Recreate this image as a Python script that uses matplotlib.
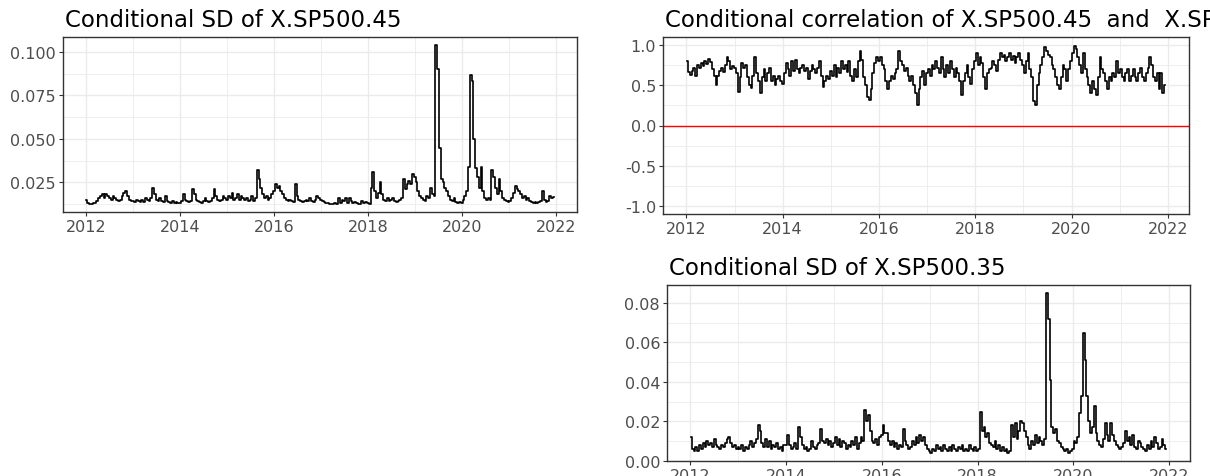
import numpy as np
import pandas as pd
import matplotlib
matplotlib.use("Agg")
import matplotlib.pyplot as plt
import matplotlib.dates as mdates
import matplotlib.ticker as mticker

plt.rcParams['font.family'] = ['DejaVu Sans']

# fortnightly DCC-GARCH output, 26 values per year, 2012-2021
sd_45 = [
    # 2012
    0.015, 0.013, 0.0125, 0.0125, 0.013, 0.013, 0.014, 0.016, 0.017, 0.018, 0.016, 0.018, 0.017,
    0.016, 0.015, 0.017, 0.016, 0.015, 0.014, 0.015, 0.017, 0.019, 0.020, 0.017, 0.015, 0.014,
    # 2013
    0.014, 0.0135, 0.015, 0.014, 0.0135, 0.015, 0.0135, 0.016, 0.015, 0.014, 0.016, 0.022, 0.018,
    0.015, 0.014, 0.016, 0.014, 0.0135, 0.017, 0.014, 0.0135, 0.013, 0.014, 0.013, 0.0135, 0.013,
    # 2014
    0.013, 0.014, 0.018, 0.015, 0.014, 0.0135, 0.014, 0.021, 0.018, 0.015, 0.014, 0.0135, 0.013,
    0.014, 0.016, 0.014, 0.0135, 0.014, 0.016, 0.021, 0.017, 0.015, 0.014, 0.015, 0.017, 0.016,
    # 2015
    0.015, 0.017, 0.016, 0.019, 0.015, 0.016, 0.018, 0.015, 0.017, 0.016, 0.015, 0.016, 0.014,
    0.015, 0.017, 0.014, 0.016, 0.032, 0.027, 0.022, 0.018, 0.016, 0.017, 0.015, 0.016, 0.018,
    # 2016
    0.020, 0.024, 0.022, 0.023, 0.020, 0.018, 0.016, 0.015, 0.014, 0.015, 0.014, 0.0135, 0.024,
    0.017, 0.015, 0.014, 0.0135, 0.014, 0.015, 0.014, 0.016, 0.014, 0.0135, 0.015, 0.017, 0.016,
    # 2017
    0.015, 0.014, 0.0135, 0.013, 0.013, 0.0128, 0.0125, 0.0125, 0.013, 0.0125, 0.016, 0.013, 0.015,
    0.014, 0.016, 0.013, 0.016, 0.014, 0.013, 0.0135, 0.013, 0.0125, 0.0125, 0.014, 0.013, 0.0135,
    # 2018
    0.013, 0.0125, 0.022, 0.031, 0.020, 0.016, 0.019, 0.025, 0.018, 0.015, 0.014, 0.016, 0.014,
    0.015, 0.016, 0.014, 0.0135, 0.014, 0.015, 0.016, 0.027, 0.021, 0.024, 0.026, 0.024, 0.030,
    # 2019
    0.028, 0.025, 0.020, 0.017, 0.016, 0.015, 0.014, 0.017, 0.016, 0.022, 0.018, 0.017, 0.104,
    0.090, 0.045, 0.027, 0.025, 0.022, 0.020, 0.017, 0.015, 0.014, 0.016, 0.0135, 0.013, 0.0135,
    # 2020
    0.013, 0.015, 0.017, 0.020, 0.034, 0.087, 0.083, 0.050, 0.033, 0.028, 0.022, 0.034, 0.020,
    0.016, 0.015, 0.016, 0.015, 0.032, 0.028, 0.022, 0.018, 0.027, 0.020, 0.016, 0.015, 0.014,
    # 2021
    0.0135, 0.014, 0.016, 0.019, 0.023, 0.021, 0.020, 0.018, 0.016, 0.017, 0.015, 0.016, 0.014,
    0.0135, 0.013, 0.0135, 0.013, 0.0135, 0.014, 0.020, 0.015, 0.0135, 0.014, 0.017, 0.016, 0.0165,
]

sd_35 = [
    # 2012
    0.012, 0.006, 0.005, 0.007, 0.005, 0.008, 0.006, 0.009, 0.007, 0.010, 0.008, 0.009, 0.007,
    0.011, 0.008, 0.007, 0.006, 0.008, 0.007, 0.009, 0.011, 0.012, 0.009, 0.007, 0.008, 0.006,
    # 2013
    0.007, 0.006, 0.008, 0.005, 0.007, 0.006, 0.008, 0.010, 0.007, 0.009, 0.011, 0.018, 0.015,
    0.009, 0.007, 0.011, 0.007, 0.010, 0.006, 0.008, 0.007, 0.009, 0.006, 0.007, 0.005, 0.008,
    # 2014
    0.008, 0.013, 0.008, 0.006, 0.007, 0.009, 0.006, 0.017, 0.012, 0.008, 0.006, 0.007, 0.005,
    0.006, 0.010, 0.007, 0.006, 0.008, 0.009, 0.016, 0.010, 0.009, 0.011, 0.008, 0.010, 0.007,
    # 2015
    0.009, 0.012, 0.008, 0.011, 0.007, 0.010, 0.009, 0.006, 0.008, 0.007, 0.010, 0.008, 0.012,
    0.006, 0.009, 0.012, 0.010, 0.026, 0.020, 0.023, 0.015, 0.010, 0.009, 0.011, 0.008, 0.012,
    # 2016
    0.013, 0.018, 0.014, 0.014, 0.010, 0.008, 0.010, 0.007, 0.009, 0.006, 0.008, 0.007, 0.016,
    0.010, 0.008, 0.006, 0.007, 0.010, 0.008, 0.012, 0.009, 0.013, 0.010, 0.012, 0.008, 0.006,
    # 2017
    0.005, 0.004, 0.006, 0.005, 0.008, 0.006, 0.007, 0.005, 0.008, 0.006, 0.005, 0.007, 0.005,
    0.008, 0.006, 0.005, 0.007, 0.006, 0.008, 0.005, 0.006, 0.005, 0.008, 0.006, 0.005, 0.007,
    # 2018
    0.005, 0.006, 0.025, 0.015, 0.017, 0.012, 0.014, 0.009, 0.008, 0.007, 0.010, 0.006, 0.008,
    0.005, 0.007, 0.005, 0.006, 0.004, 0.005, 0.018, 0.012, 0.019, 0.011, 0.015, 0.020, 0.019,
    # 2019
    0.015, 0.012, 0.008, 0.006, 0.010, 0.008, 0.013, 0.009, 0.012, 0.010, 0.008, 0.011, 0.085,
    0.072, 0.041, 0.017, 0.014, 0.016, 0.010, 0.009, 0.007, 0.006, 0.005, 0.006, 0.004, 0.005,
    # 2020
    0.006, 0.010, 0.009, 0.012, 0.024, 0.033, 0.065, 0.051, 0.033, 0.020, 0.014, 0.017, 0.028,
    0.014, 0.010, 0.008, 0.007, 0.011, 0.019, 0.013, 0.010, 0.019, 0.013, 0.010, 0.008, 0.007,
    # 2021
    0.006, 0.007, 0.009, 0.015, 0.010, 0.012, 0.008, 0.013, 0.007, 0.006, 0.010, 0.009, 0.007,
    0.006, 0.005, 0.008, 0.006, 0.010, 0.007, 0.012, 0.009, 0.006, 0.007, 0.011, 0.008, 0.006,
]

corr = [
    # 2012
    0.80, 0.66, 0.63, 0.68, 0.72, 0.62, 0.75, 0.72, 0.78, 0.74, 0.80, 0.76, 0.83,
    0.79, 0.70, 0.62, 0.50, 0.62, 0.68, 0.72, 0.66, 0.75, 0.85, 0.80, 0.70, 0.74,
    # 2013
    0.72, 0.65, 0.42, 0.60, 0.78, 0.72, 0.75, 0.60, 0.50, 0.46, 0.62, 0.85, 0.65,
    0.55, 0.40, 0.60, 0.70, 0.55, 0.65, 0.72, 0.55, 0.62, 0.50, 0.58, 0.62, 0.55,
    # 2014
    0.52, 0.65, 0.78, 0.70, 0.62, 0.80, 0.68, 0.82, 0.70, 0.65, 0.72, 0.75, 0.68,
    0.72, 0.58, 0.68, 0.75, 0.70, 0.65, 0.72, 0.80, 0.62, 0.48, 0.55, 0.62, 0.58,
    # 2015
    0.68, 0.62, 0.75, 0.60, 0.72, 0.65, 0.80, 0.70, 0.75, 0.66, 0.80, 0.62, 0.55,
    0.70, 0.60, 0.80, 0.93, 0.82, 0.60, 0.50, 0.35, 0.32, 0.45, 0.65, 0.78, 0.85,
    # 2016
    0.80, 0.85, 0.75, 0.70, 0.55, 0.45, 0.55, 0.62, 0.58, 0.65, 0.70, 0.92, 0.80,
    0.75, 0.68, 0.72, 0.62, 0.55, 0.62, 0.50, 0.40, 0.25, 0.45, 0.60, 0.68, 0.50,
    # 2017
    0.65, 0.70, 0.62, 0.75, 0.70, 0.80, 0.72, 0.65, 0.85, 0.70, 0.60, 0.75, 0.65,
    0.80, 0.70, 0.60, 0.72, 0.65, 0.55, 0.38, 0.55, 0.65, 0.75, 0.60, 0.52, 0.70,
    # 2018
    0.80, 0.90, 0.75, 0.85, 0.78, 0.60, 0.45, 0.65, 0.70, 0.72, 0.80, 0.75, 0.68,
    0.82, 0.90, 0.85, 0.88, 0.80, 0.85, 0.90, 0.82, 0.86, 0.78, 0.85, 0.90, 0.82,
    # 2019
    0.75, 0.65, 0.80, 0.90, 0.70, 0.60, 0.30, 0.26, 0.50, 0.65, 0.75, 0.85, 0.98,
    0.92, 0.88, 0.85, 0.75, 0.70, 0.60, 0.50, 0.45, 0.60, 0.75, 0.70, 0.55, 0.70,
    # 2020
    0.80, 0.90, 0.99, 0.95, 0.85, 0.75, 0.65, 0.90, 0.70, 0.60, 0.50, 0.40, 0.55,
    0.45, 0.38, 0.60, 0.85, 0.70, 0.65, 0.55, 0.45, 0.60, 0.55, 0.65, 0.60, 0.80,
    # 2021
    0.65, 0.70, 0.60, 0.55, 0.65, 0.70, 0.55, 0.62, 0.70, 0.60, 0.55, 0.65, 0.72,
    0.60, 0.55, 0.65, 0.72, 0.85, 0.75, 0.60, 0.55, 0.65, 0.45, 0.65, 0.40, 0.50,
]

dates = pd.date_range("2012-01-06", periods=len(sd_45), freq="14D")

W, H = 1210, 477
fig = plt.figure(figsize=(W / 100, H / 100), dpi=100)

BORDER = "#333333"
GRID = "#EBEBEB"
TICKCOL = "#4D4D4D"


def panel(px_box, title, y, yticks, yfmt, ylim=None):
    l, t, r, b = px_box
    ax = fig.add_axes([l / W, 1 - b / H, (r - l) / W, (b - t) / H])
    ax.plot(dates, y, color="black", lw=1.2, drawstyle="steps-mid")
    ax.margins(x=0.05, y=0.05)
    if ylim is not None:
        ax.set_ylim(*ylim)
    ax.xaxis.set_major_locator(mdates.YearLocator(2))
    ax.xaxis.set_minor_locator(mdates.YearLocator(1))
    ax.xaxis.set_major_formatter(mdates.DateFormatter("%Y"))
    ax.set_yticks(yticks)
    step = yticks[1] - yticks[0]
    ax.yaxis.set_minor_locator(mticker.MultipleLocator(step / 2))
    ax.yaxis.set_major_formatter(mticker.FormatStrFormatter(yfmt))
    ax.grid(which="major", color=GRID, lw=1.0)
    ax.grid(which="minor", color=GRID, lw=0.6)
    ax.set_axisbelow(True)
    for s in ax.spines.values():
        s.set_color(BORDER)
        s.set_linewidth(1.0)
    ax.tick_params(which="major", length=3, width=0.8, color=BORDER,
                   labelcolor=TICKCOL, labelsize=11.5, pad=2)
    ax.tick_params(which="minor", length=0)
    fig.text((l + 2) / W, 1 - (t - 11) / H, title, fontsize=16.5, color="black",
             ha="left", va="baseline")
    return ax


panel((63, 38, 577, 213), "Conditional SD of X.SP500.45", sd_45,
      [0.025, 0.050, 0.075, 0.100], "%.3f")

ax_c = panel((663, 38, 1189, 215),
             "Conditional correlation of X.SP500.45  and  X.SP500.35", corr,
             [-1.0, -0.5, 0.0, 0.5, 1.0], "%.1f", ylim=(-1.1, 1.1))
ax_c.axhline(0, color="red", lw=1.0, zorder=1.5)

panel((667, 286, 1190, 462), "Conditional SD of X.SP500.35", sd_35,
      [0.00, 0.02, 0.04, 0.06, 0.08], "%.2f")

fig.savefig("out.png", dpi=100, facecolor="white")
